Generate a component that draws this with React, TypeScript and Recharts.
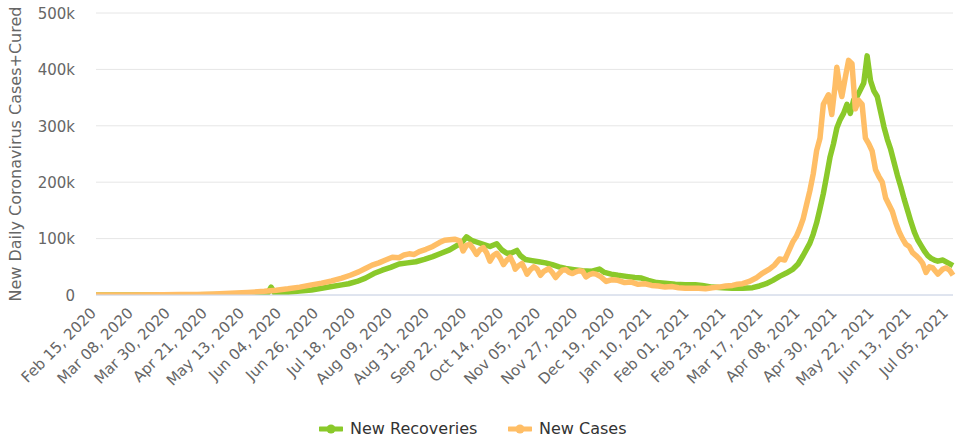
import { LineChart, Line, XAxis, YAxis, CartesianGrid, Label } from 'recharts';

// day 0 = Feb 15, 2020 ; values in thousands
const tickDays = [0, 22, 44, 66, 88, 110, 132, 154, 176, 198, 220, 242, 264, 286, 308, 330, 352, 374, 396, 418, 440, 462, 484, 506];
const tickLabels = [
  'Feb 15, 2020', 'Mar 08, 2020', 'Mar 30, 2020', 'Apr 21, 2020', 'May 13, 2020', 'Jun 04, 2020',
  'Jun 26, 2020', 'Jul 18, 2020', 'Aug 09, 2020', 'Aug 31, 2020', 'Sep 22, 2020', 'Oct 14, 2020',
  'Nov 05, 2020', 'Nov 27, 2020', 'Dec 19, 2020', 'Jan 10, 2021', 'Feb 01, 2021', 'Feb 23, 2021',
  'Mar 17, 2021', 'Apr 08, 2021', 'Apr 30, 2021', 'May 22, 2021', 'Jun 13, 2021', 'Jul 05, 2021',
];
const yTicks = [0, 100, 200, 300, 400, 500];

const caseDays = [
  0, 20, 40, 50, 60, 70, 80, 90, 100, 107,
  114, 121, 128, 134, 140, 146, 151, 156, 160, 164,
  168, 172, 176, 180, 183, 186, 189, 192, 196, 200,
  204, 207, 210, 213, 216, 218, 220, 222, 224, 226,
  228, 230, 232, 234, 236, 238, 240, 242, 244, 246,
  248, 249, 251, 253, 255, 256, 258, 260, 262, 264,
  266, 269, 271, 273, 275, 277, 279, 281, 283, 285,
  287, 289, 291, 293, 295, 297, 300, 303, 306, 310,
  314, 318, 322, 326, 330, 334, 338, 342, 346, 350,
  354, 358, 362, 366, 370, 374, 378, 381, 384, 388,
  392, 396, 400, 403, 406, 409, 412, 414, 416, 418,
  420, 422, 424, 426, 428, 430, 432, 435, 437, 439,
  440, 442, 443, 445, 447, 449, 451, 453, 455, 457,
  459, 461, 463, 465, 467, 469, 471, 473, 475, 477,
  479, 481, 483, 485, 487, 489, 491, 493, 495, 497,
  500, 503, 505, 507, 509,
];
const caseValues = [
  0, 0, 0.3, 0.8, 1, 1.8, 3, 4.5, 6.5, 8.5,
  11, 14, 18, 21, 25, 30, 35, 41, 47, 53,
  57, 62, 67, 66, 71, 73, 72, 77, 81, 86,
  93, 97, 98, 99, 96, 78, 88, 90, 82, 72,
  80, 84, 75, 60, 70, 74, 66, 54, 62, 67,
  55, 46, 52, 56, 44, 37, 45, 50, 46, 35,
  42, 47, 40, 31, 38, 44, 45, 40, 38, 41,
  43, 42, 32, 36, 38, 37, 32, 24, 27, 26,
  22, 23, 19, 20, 17, 16, 14, 15, 13, 12,
  12, 12, 11, 13, 14, 16, 17, 19, 20, 24,
  30, 39, 46, 53, 64, 62, 82, 95, 104, 118,
  135, 160, 185, 215, 256, 278, 338, 355, 320, 372,
  404, 365, 352, 385, 416, 410, 330, 345, 338, 278,
  268, 255, 222, 210, 200, 172, 160, 148, 128, 112,
  100, 90, 86, 75, 70, 64, 56, 40, 50, 48,
  37, 46, 48, 44, 35,
];

const recDays = [
  0, 30, 60, 80, 95, 102, 104, 106, 114, 121,
  128, 134, 140, 146, 150, 155, 160, 165, 170, 175,
  180, 185, 190, 195, 200, 205, 210, 214, 217, 220,
  223, 226, 230, 234, 238, 241, 244, 247, 250, 252,
  255, 259, 263, 267, 271, 275, 279, 284, 289, 294,
  299, 302, 306, 310, 315, 320, 324, 328, 333, 338,
  344, 350, 356, 360, 366, 372, 378, 384, 390, 394,
  398, 402, 406, 410, 414, 417, 420, 424, 426, 428,
  430, 432, 434, 436, 438, 440, 442, 444, 446, 448,
  450, 452, 454, 456, 458, 460, 462, 464, 466, 468,
  470, 472, 474, 476, 478, 480, 482, 484, 486, 488,
  490, 492, 494, 496, 498, 500, 503, 506, 509,
];
const recValues = [
  0, 0, 0.3, 1, 2.5, 3.5, 14, 4, 5, 7,
  9, 12, 15, 18, 20, 24, 30, 38, 44, 49,
  55, 57, 59, 63, 68, 74, 80, 87, 92, 103,
  97, 94, 90, 86, 91, 80, 74, 75, 79, 70,
  63, 61, 59, 57, 54, 50, 47, 45, 43, 42,
  46, 40, 37, 35, 33, 31, 30, 26, 22, 21,
  19, 18, 18, 17, 14, 13, 12, 12, 13, 16,
  20, 26, 33, 39, 46, 55, 70, 92, 108, 128,
  153, 180, 212, 245, 268, 296, 311, 322, 338, 322,
  346, 352, 364, 376, 424, 380, 362, 352, 325, 298,
  276, 258, 235, 212, 192, 170, 150, 130, 112, 98,
  88, 78, 70, 65, 62, 60, 62, 57, 52,
];

const casesData = caseDays.map((day, i) => ({ day, value: caseValues[i] }));
const recData = recDays.map((day, i) => ({ day, value: recValues[i] }));

const GREEN = '#8AC92A';
const ORANGE = '#FFBE66';
const FONT = '"DejaVu Sans", Verdana, sans-serif';

const XTick = ({ x, y, payload }: any) => {
  const label = tickLabels[tickDays.indexOf(payload.value)];
  const px = x + 1;
  const py = y + 19;
  return (
    <text x={px} y={py} textAnchor="end" fill="#666" fontSize={15} fontFamily={FONT}
      transform={`rotate(-45, ${px}, ${py})`}>
      {label}
    </text>
  );
};

const YTick = ({ y, payload }: any) => (
  <text x={75} y={y} dy="0.38em" textAnchor="end" fill="#666" fontSize={15} fontFamily={FONT}>
    {payload.value === 0 ? '0' : `${payload.value}k`}
  </text>
);

const LegendItem = ({ left, color, text }: { left: number; color: string; text: string }) => (
  <div style={{ position: 'absolute', left, top: 419, height: 20, display: 'flex', alignItems: 'center' }}>
    <svg width={24} height={12} style={{ marginRight: 7 }}>
      <line x1={1} y1={6} x2={23} y2={6} stroke={color} strokeWidth={5} strokeLinecap="round" />
      <circle cx={12} cy={6} r={4.5} fill={color} />
    </svg>
    <span style={{ fontFamily: FONT, fontSize: 16, color: '#333', lineHeight: '20px', whiteSpace: 'nowrap' }}>{text}</span>
  </div>
);

export default function App() {
  return (
    <div style={{ position: 'absolute', left: 0, top: 0, width: 959, height: 441, background: '#fff' }}>
      <LineChart width={959} height={441} margin={{ top: 13, right: 6, left: 0, bottom: 0 }}>
        <CartesianGrid vertical={false} stroke="#e6e6e6" />
        <XAxis
          type="number"
          dataKey="day"
          domain={[0, 509]}
          ticks={tickDays}
          interval={0}
          height={146}
          tickSize={0}
          tickMargin={0}
          tickLine={false}
          axisLine={{ stroke: '#ccd6eb' }}
          tick={<XTick />}
        />
        <YAxis
          type="number"
          domain={[0, 500]}
          ticks={yTicks}
          width={96}
          allowDataOverflow
          axisLine={false}
          tickLine={false}
          tick={<YTick />}
        >
          <Label
            content={() => (
              <text x={15} y={154} textAnchor="middle" dominantBaseline="central" fill="#666"
                fontSize={16} fontFamily={FONT} transform="rotate(-90, 15, 154)">
                New Daily Coronavirus Cases+Cured
              </text>
            )}
          />
        </YAxis>
        <Line
          data={recData}
          dataKey="value"
          type="linear"
          stroke={GREEN}
          strokeWidth={5.5}
          strokeLinejoin="round"
          dot={false}
          isAnimationActive={false}
        />
        <Line
          data={casesData}
          dataKey="value"
          type="linear"
          stroke={ORANGE}
          strokeWidth={5.5}
          strokeLinejoin="round"
          dot={false}
          isAnimationActive={false}
        />
      </LineChart>
      <LegendItem left={319} color={GREEN} text="New Recoveries" />
      <LegendItem left={508} color={ORANGE} text="New Cases" />
    </div>
  );
}
